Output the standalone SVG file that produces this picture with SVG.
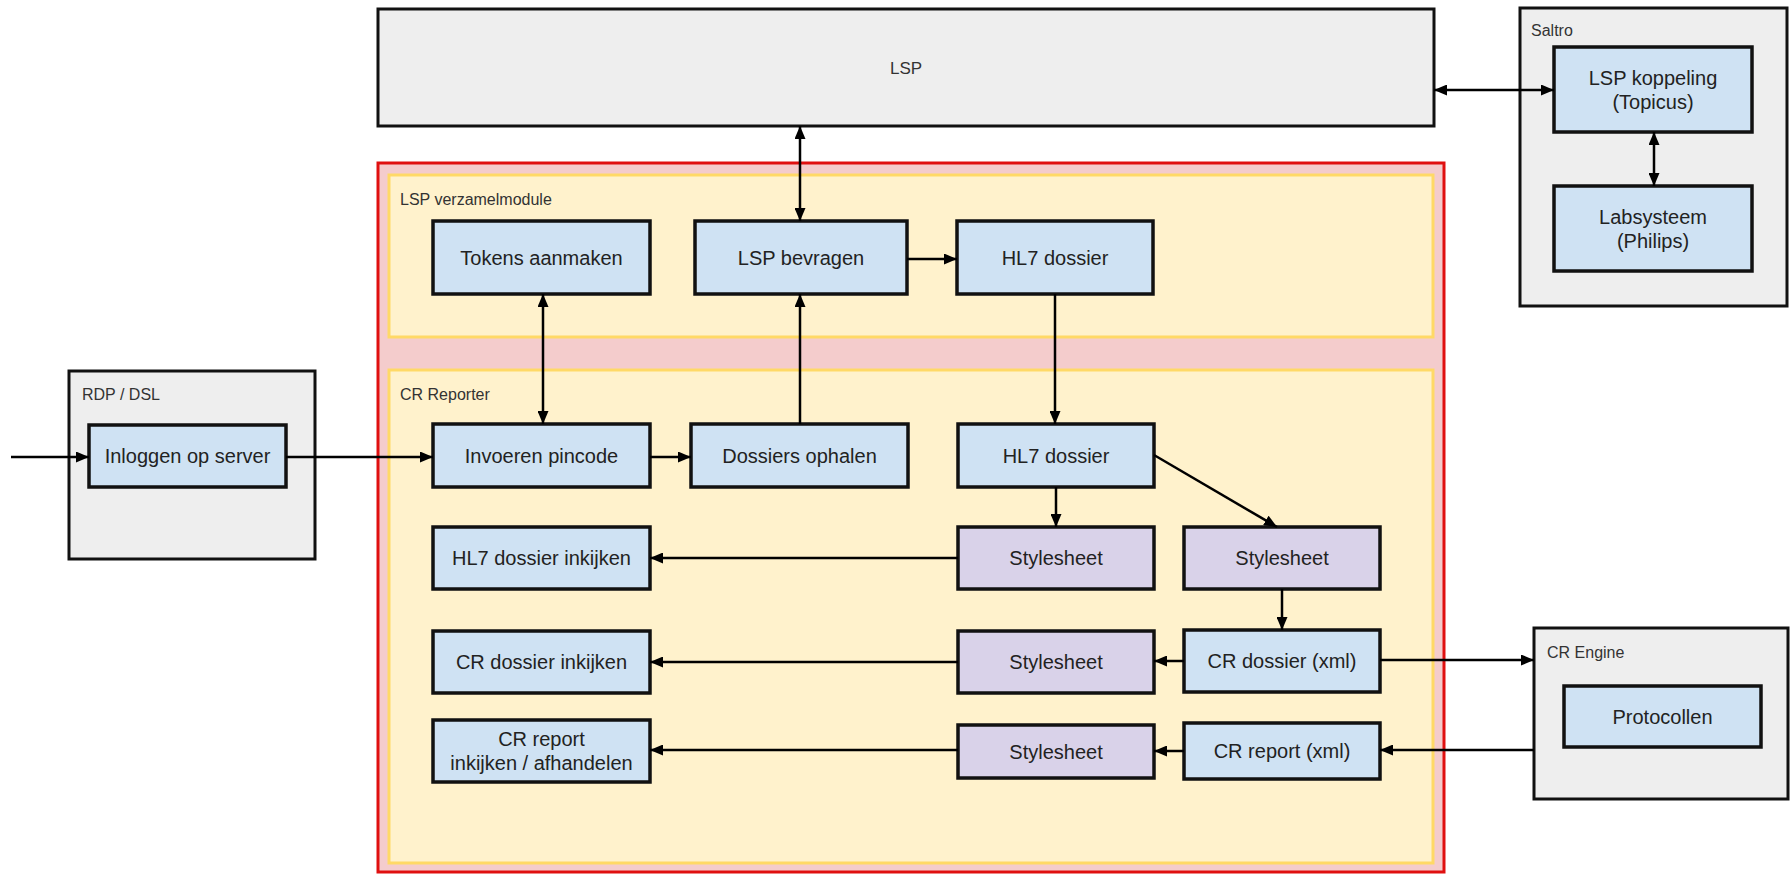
<svg xmlns="http://www.w3.org/2000/svg" width="1792" height="878" viewBox="0 0 1792 878">
<defs>
<marker id="ah" markerUnits="userSpaceOnUse" markerWidth="13" markerHeight="11" refX="13" refY="5.5" orient="auto-start-reverse" viewBox="0 0 13 11">
<path d="M0,0 L13,5.5 L0,11 z" fill="#000"/>
</marker>
<style>
.gray{fill:#eeeeee;stroke:#111;stroke-width:3}
.red{fill:#f4cccc;stroke:#e01010;stroke-width:3}
.yel{fill:#fff2cc;stroke:#ffd966;stroke-width:3}
.node{fill:#cfe2f3;stroke:#111;stroke-width:3.5}
.ss{fill:#d9d2e9;stroke:#111;stroke-width:3.5}
.t{font-family:"Liberation Sans",Arial,sans-serif;font-size:20px;fill:#222;text-anchor:middle;dominant-baseline:central}
.lbl{font-family:"Liberation Sans",Arial,sans-serif;font-size:16px;fill:#333}
.big{font-family:"Liberation Sans",Arial,sans-serif;font-size:17px;fill:#333;text-anchor:middle;dominant-baseline:central}
.c line{stroke:#000;stroke-width:2.5;fill:none}
</style>
</defs>
<rect width="1792" height="878" fill="#fff"/>

<g id="lsp"><rect class="gray" x="378" y="9" width="1056" height="117"/><text class="big" x="906" y="68">LSP</text></g>
<g id="saltro"><rect class="gray" x="1520" y="8" width="267" height="298"/><text class="lbl" x="1531" y="36">Saltro</text></g>
<g id="crsystem"><rect class="red" x="378" y="163" width="1066" height="709"/></g>
<g id="verzamelmodule"><rect class="yel" x="389" y="175" width="1044" height="162"/><text class="lbl" x="400" y="205">LSP verzamelmodule</text></g>
<g id="crreporter"><rect class="yel" x="389" y="370" width="1044" height="493"/><text class="lbl" x="400" y="400">CR Reporter</text></g>
<g id="rdp"><rect class="gray" x="69" y="371" width="246" height="188"/><text class="lbl" x="82" y="400">RDP / DSL</text></g>
<g id="crengine"><rect class="gray" x="1534" y="628" width="254" height="171"/><text class="lbl" x="1547" y="658">CR Engine</text></g>

<g id="tokens"><rect class="node" x="433" y="221" width="217" height="73"/><text class="t" x="541.5" y="257.5">Tokens aanmaken</text></g>
<g id="lspbevragen"><rect class="node" x="695" y="221" width="212" height="73"/><text class="t" x="801" y="257.5">LSP bevragen</text></g>
<g id="hl7top"><rect class="node" x="957" y="221" width="196" height="73"/><text class="t" x="1055" y="257.5">HL7 dossier</text></g>
<g id="invoeren"><rect class="node" x="433" y="424" width="217" height="63"/><text class="t" x="541.5" y="455.5">Invoeren pincode</text></g>
<g id="ophalen"><rect class="node" x="691" y="424" width="217" height="63"/><text class="t" x="799.5" y="455.5">Dossiers ophalen</text></g>
<g id="hl7mid"><rect class="node" x="958" y="424" width="196" height="63"/><text class="t" x="1056" y="455.5">HL7 dossier</text></g>
<g id="hl7inkijken"><rect class="node" x="433" y="527" width="217" height="62"/><text class="t" x="541.5" y="558">HL7 dossier inkijken</text></g>
<g id="ss1"><rect class="ss" x="958" y="527" width="196" height="62"/><text class="t" x="1056" y="558">Stylesheet</text></g>
<g id="ss2"><rect class="ss" x="1184" y="527" width="196" height="62"/><text class="t" x="1282" y="558">Stylesheet</text></g>
<g id="crinkijken"><rect class="node" x="433" y="631" width="217" height="62"/><text class="t" x="541.5" y="662">CR dossier inkijken</text></g>
<g id="ss3"><rect class="ss" x="958" y="631" width="196" height="62"/><text class="t" x="1056" y="662">Stylesheet</text></g>
<g id="crdossier"><rect class="node" x="1184" y="630" width="196" height="62"/><text class="t" x="1282" y="661">CR dossier (xml)</text></g>
<g id="crreportinkijken"><rect class="node" x="433" y="720" width="217" height="62"/><text class="t" x="541.5" y="739">CR report</text><text class="t" x="541.5" y="763">inkijken / afhandelen</text></g>
<g id="ss4"><rect class="ss" x="958" y="725" width="196" height="53"/><text class="t" x="1056" y="751.5">Stylesheet</text></g>
<g id="crreport"><rect class="node" x="1184" y="723" width="196" height="56"/><text class="t" x="1282" y="751">CR report (xml)</text></g>
<g id="inloggen"><rect class="node" x="89" y="425" width="197" height="62"/><text class="t" x="187.5" y="456">Inloggen op server</text></g>
<g id="koppeling"><rect class="node" x="1554" y="47" width="198" height="85"/><text class="t" x="1653" y="78">LSP koppeling</text><text class="t" x="1653" y="102">(Topicus)</text></g>
<g id="labsysteem"><rect class="node" x="1554" y="186" width="198" height="85"/><text class="t" x="1653" y="217">Labsysteem</text><text class="t" x="1653" y="241">(Philips)</text></g>
<g id="protocollen"><rect class="node" x="1564" y="686" width="197" height="61"/><text class="t" x="1662.5" y="716.5">Protocollen</text></g>

<g id="connectors" class="c">
<line x1="11" y1="457" x2="89" y2="457" marker-end="url(#ah)"/>
<line x1="286" y1="457" x2="433" y2="457" marker-end="url(#ah)"/>
<line x1="650" y1="457" x2="691" y2="457" marker-end="url(#ah)"/>
<line x1="543" y1="294" x2="543" y2="424" marker-start="url(#ah)" marker-end="url(#ah)"/>
<line x1="800" y1="424" x2="800" y2="294" marker-end="url(#ah)"/>
<line x1="800" y1="126" x2="800" y2="221" marker-start="url(#ah)" marker-end="url(#ah)"/>
<line x1="907" y1="259" x2="957" y2="259" marker-end="url(#ah)"/>
<line x1="1055" y1="294" x2="1055" y2="424" marker-end="url(#ah)"/>
<line x1="1056" y1="487" x2="1056" y2="527" marker-end="url(#ah)"/>
<line x1="1154" y1="455" x2="1277" y2="527" marker-end="url(#ah)"/>
<line x1="958" y1="558" x2="650" y2="558" marker-end="url(#ah)"/>
<line x1="1282" y1="589" x2="1282" y2="630" marker-end="url(#ah)"/>
<line x1="1184" y1="661" x2="1154" y2="661" marker-end="url(#ah)"/>
<line x1="958" y1="662" x2="650" y2="662" marker-end="url(#ah)"/>
<line x1="1380" y1="660" x2="1534" y2="660" marker-end="url(#ah)"/>
<line x1="1534" y1="750" x2="1380" y2="750" marker-end="url(#ah)"/>
<line x1="1184" y1="751" x2="1154" y2="751" marker-end="url(#ah)"/>
<line x1="958" y1="750" x2="650" y2="750" marker-end="url(#ah)"/>
<line x1="1434" y1="90" x2="1554" y2="90" marker-start="url(#ah)" marker-end="url(#ah)"/>
<line x1="1654" y1="132" x2="1654" y2="186" marker-start="url(#ah)" marker-end="url(#ah)"/>
</g>
</svg>
